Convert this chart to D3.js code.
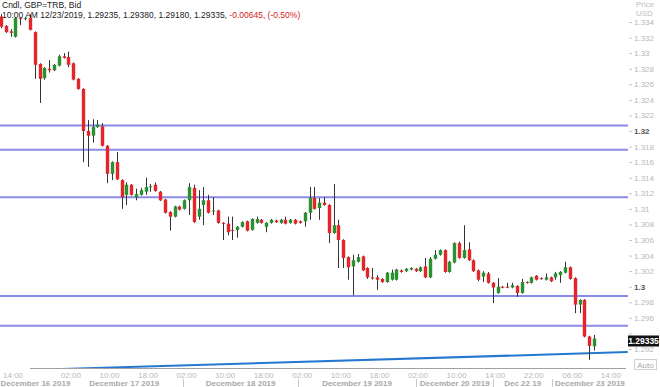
<!DOCTYPE html>
<html><head><meta charset="utf-8">
<script src="https://cdn.jsdelivr.net/npm/d3@7"></script>
<style>body{margin:0;background:#fff}svg{display:block}</style>
</head><body><svg id="c" width="660" height="387"></svg>
<script>
// ---- data (GBP/USD hourly candles, Dec 16 - Dec 23 2019) ----
const opens = [1.3347,1.3335,1.3328,1.3321,1.3345,1.3344,1.3345,1.3327,1.3286,1.3268,1.3280,1.3278,1.3284,1.3296,1.3295,1.3287,1.3267,1.3254,1.3200,1.3194,1.3205,1.3206,1.3181,1.3145,1.3160,1.3137,1.3118,1.3131,1.3115,1.3118,1.3122,1.3128,1.3131,1.3122,1.3112,1.3096,1.3090,1.3103,1.3100,1.3111,1.3127,1.3090,1.3105,1.3111,1.3097,1.3098,1.3082,1.3081,1.3073,1.3073,1.3077,1.3084,1.3073,1.3082,1.3086,1.3077,1.3082,1.3085,1.3082,1.3086,1.3082,1.3086,1.3084,1.3084,1.3095,1.3114,1.3101,1.3108,1.3105,1.3069,1.3079,1.3060,1.3038,1.3026,1.3032,1.3039,1.3024,1.3012,1.3012,1.3010,1.3006,1.3009,1.3009,1.3021,1.3020,1.3022,1.3023,1.3020,1.3026,1.3012,1.3036,1.3041,1.3047,1.3019,1.3031,1.3056,1.3037,1.3048,1.3034,1.3021,1.3013,1.3017,1.3005,1.2992,1.3000,1.3000,1.2999,1.3001,1.2992,1.3006,1.3005,1.3014,1.3011,1.3009,1.3012,1.3012,1.3015,1.3018,1.3025,1.3011,1.2977,1.2983,1.2936,1.29235];
const highs = [1.3350,1.3336,1.3331,1.3346,1.3346,1.3346,1.3350,1.3328,1.3287,1.3282,1.3291,1.3286,1.3298,1.3300,1.3302,1.3288,1.3268,1.3255,1.3214,1.3215,1.3214,1.3210,1.3182,1.3161,1.3173,1.3138,1.3134,1.3132,1.3126,1.3127,1.3140,1.3132,1.3134,1.3123,1.3113,1.3097,1.3104,1.3104,1.3112,1.3133,1.3131,1.3124,1.3128,1.3118,1.3115,1.3099,1.3083,1.3090,1.3090,1.3078,1.3084,1.3085,1.3088,1.3090,1.3087,1.3083,1.3087,1.3086,1.3087,1.3090,1.3087,1.3087,1.3085,1.3096,1.3128,1.3128,1.3114,1.3115,1.3106,1.3132,1.3086,1.3061,1.3039,1.3041,1.3042,1.3040,1.3025,1.3024,1.3015,1.3011,1.3019,1.3022,1.3023,1.3022,1.3024,1.3025,1.3024,1.3026,1.3037,1.3038,1.3047,1.3048,1.3048,1.3033,1.3057,1.3058,1.3079,1.3057,1.3035,1.3022,1.3020,1.3019,1.3006,1.3011,1.3001,1.3005,1.3005,1.3002,1.3010,1.3007,1.3013,1.3015,1.3012,1.3017,1.3013,1.3019,1.3020,1.3032,1.3026,1.3012,1.2984,1.2984,1.2937,1.2938];
const lows = [1.3332,1.3326,1.3321,1.3320,1.3336,1.3342,1.3329,1.3267,1.3236,1.3266,1.3275,1.3277,1.3283,1.3293,1.3282,1.3265,1.3253,1.3160,1.3154,1.3185,1.3204,1.3180,1.3133,1.3137,1.3137,1.3100,1.3105,1.3117,1.3111,1.3117,1.3118,1.3122,1.3122,1.3110,1.3094,1.3072,1.3089,1.3098,1.3099,1.3092,1.3082,1.3086,1.3079,1.3094,1.3092,1.3081,1.3060,1.3066,1.3060,1.3063,1.3076,1.3071,1.3072,1.3081,1.3081,1.3070,1.3081,1.3082,1.3081,1.3080,1.3081,1.3080,1.3081,1.3077,1.3086,1.3099,1.3086,1.3104,1.3056,1.3068,1.3024,1.3024,1.3009,1.2989,1.3031,1.3020,1.3010,1.3009,1.2996,1.3005,1.3005,1.3008,1.3008,1.3018,1.3019,1.3021,1.3019,1.3019,1.3011,1.3011,1.3035,1.3040,1.3018,1.3018,1.3030,1.3036,1.3036,1.3033,1.3019,1.3007,1.3006,1.3004,1.2979,1.2991,1.2998,1.2998,1.2998,1.2987,1.2991,1.3004,1.3004,1.3008,1.3009,1.3008,1.3006,1.3009,1.3005,1.3017,1.3009,1.2966,1.2966,1.2935,1.2906,1.2918];
const closes = [1.3334,1.3327,1.3326,1.3345,1.3344,1.3345,1.3330,1.3285,1.3267,1.3281,1.3278,1.3285,1.3296,1.3294,1.3285,1.3266,1.3254,1.3200,1.3194,1.3205,1.3208,1.3181,1.3145,1.3160,1.3138,1.3115,1.3131,1.3118,1.3119,1.3124,1.3128,1.3129,1.3123,1.3111,1.3095,1.3090,1.3103,1.3099,1.3111,1.3128,1.3083,1.3100,1.3111,1.3095,1.3098,1.3082,1.3081,1.3070,1.3072,1.3077,1.3083,1.3072,1.3087,1.3087,1.3082,1.3082,1.3086,1.3083,1.3086,1.3081,1.3086,1.3081,1.3082,1.3095,1.3114,1.3100,1.3108,1.3105,1.3069,1.3079,1.3060,1.3037,1.3025,1.3034,1.3038,1.3021,1.3012,1.3011,1.3009,1.3006,1.3018,1.3018,1.3022,1.3019,1.3023,1.3024,1.3020,1.3025,1.3012,1.3036,1.3041,1.3047,1.3019,1.3032,1.3056,1.3037,1.3047,1.3034,1.3020,1.3009,1.3018,1.3005,1.2999,1.3000,1.2999,1.2999,1.3002,1.2992,1.3006,1.3005,1.3012,1.3009,1.3010,1.3012,1.3007,1.3017,1.3019,1.3025,1.3010,1.2977,1.2983,1.2936,1.2924,1.29335];

const levels = [1.3207, 1.3176, 1.3115, 1.2988, 1.2950];
const trendIdx = [0, 130];
const trendVal = [1.2892, 1.2916];

const yTicks = [1.292,1.294,1.296,1.298,1.300,1.302,1.304,1.306,1.308,1.310,1.312,1.314,1.316,1.318,1.320,1.322,1.324,1.326,1.328,1.330,1.332,1.334];
const yBold = [1.300, 1.320];
const yHidden = [1.294]; // covered by the last-price label

const timeIdx = [2.5,14.5,22.5,30.5,38.5,46.5,54.5,62.5,70.5,78.5,86.5,94.5,102.5,110.5,118.5,126.5];
const timeText = ["14:00","02:00","10:00","18:00","02:00","10:00","18:00","02:00","10:00","18:00","02:00","10:00","14:00","22:00","06:00","14:00"];
const sepIdx = [-1, 13.3, 37.8, 61.6, 86.1, 102.1, 114.3, 130];
const dateText = ["December 16 2019","December 17 2019","December 18 2019","December 19 2019","December 20 2019","Dec 22 19","December 23 2019"];

const lastPrice = 1.29335;
const header1 = "Cndl, GBP=TRB, Bid";
const header2 = "10:00 AM 12/23/2019, 1.29235, 1.29380, 1.29180, 1.29335, ";
const header3 = "-0.00645, (-0.50%)";

// ---- drawing ----
const plotR = 628, plotB = 368;
const svg = d3.select("#c");
const font = "Liberation Sans, Arial, sans-serif";

const x = d3.scaleLinear().domain([0, opens.length - 1]).range([1, 594]);
const y = d3.scaleLinear().domain([1.292, 1.334]).range([349, 22]);

svg.append("defs").append("clipPath").attr("id","plot")
  .append("rect").attr("x",0).attr("y",0).attr("width",plotR).attr("height",plotB);

const g = svg.append("g").attr("clip-path","url(#plot)");

// levels
g.selectAll("line.lvl").data(levels).join("line").attr("class","lvl")
  .attr("x1",0).attr("x2",plotR).attr("y1",d=>y(d)).attr("y2",d=>y(d))
  .attr("stroke","#8a8ae8").attr("stroke-width",2);

// trend line
g.append("line")
  .attr("x1",x(trendIdx[0])).attr("y1",y(trendVal[0]))
  .attr("x2",x(trendIdx[1])).attr("y2",y(trendVal[1]))
  .attr("stroke","#2478cf").attr("stroke-width",2);

// candles
const idx = d3.range(opens.length);
const bw = 3.4;
g.selectAll("line.wick").data(idx).join("line").attr("class","wick")
  .attr("x1",i=>Math.round(x(i))+0.5).attr("x2",i=>Math.round(x(i))+0.5)
  .attr("y1",i=>y(highs[i])).attr("y2",i=>y(lows[i]))
  .attr("stroke","#333").attr("stroke-width",1);
g.selectAll("rect.body").data(idx).join("rect").attr("class","body")
  .attr("x",i=>Math.round(x(i))+0.5-bw/2).attr("width",bw)
  .attr("y",i=>y(Math.max(opens[i],closes[i])))
  .attr("height",i=>Math.max(1, Math.abs(y(opens[i])-y(closes[i]))))
  .attr("fill",i=>closes[i]>=opens[i] ? "#2a912f" : "#e4262b");

// y axis
const isIn = (arr, d) => arr.some(b => Math.abs(b - d) < 1e-9);
const ax = svg.append("g").attr("transform",`translate(${plotR+1},0)`)
  .call(d3.axisRight(y).tickValues(yTicks).tickSize(3).tickPadding(2)
    .tickFormat(d => isIn(yHidden, d) ? "" : String(+d.toFixed(3))));
ax.select(".domain").remove();
ax.selectAll(".tick line").attr("stroke","#c4c4c4");
ax.selectAll(".tick text").attr("font-family",font).attr("font-size","8px")
  .attr("fill",d => isIn(yBold, d) ? "#555" : "#b8b8b8")
  .attr("font-weight",d => isIn(yBold, d) ? "bold" : "normal");

svg.append("text").attr("x",636).attr("y",7).text("Price")
  .attr("font-family",font).attr("font-size","8px").attr("fill","#c0c0c0");
svg.append("text").attr("x",636).attr("y",16).text("USD")
  .attr("font-family",font).attr("font-size","8px").attr("fill","#c0c0c0");

// last price label
const ly = y(lastPrice);
svg.append("rect").attr("x",628).attr("y",ly-3).attr("width",31).attr("height",11).attr("fill","#111");
svg.append("text").attr("x",643.5).attr("y",ly+6).attr("text-anchor","middle").text(d3.format(".5f")(lastPrice))
  .attr("font-family",font).attr("font-size","8.5px").attr("font-weight","bold").attr("fill","#fff");

// Auto box
svg.append("rect").attr("x",634.5).attr("y",359.5).attr("width",22).attr("height",10)
  .attr("fill","#fff").attr("stroke","#d0d0d0");
svg.append("text").attr("x",645.5).attr("y",367.5).attr("text-anchor","middle").text("Auto")
  .attr("font-family",font).attr("font-size","8px").attr("fill","#a8a8a8");

// x axis
svg.append("line").attr("x1",30).attr("x2",626).attr("y1",plotB+0.5).attr("y2",plotB+0.5).attr("stroke","#a0a0a0");
svg.selectAll("text.tl").data(timeIdx).join("text").attr("class","tl")
  .attr("x",d=>x(d)).attr("y",378).attr("text-anchor","middle").text((d,i)=>timeText[i])
  .attr("font-family",font).attr("font-size","8px").attr("fill","#b8b8b8");
const dl = svg.selectAll("text.dl").data(dateText).join("text").attr("class","dl")
  .attr("x",(d,i)=>(x(sepIdx[i])+x(sepIdx[i+1]))/2).attr("y",386).attr("text-anchor","middle").text(d=>d)
  .attr("font-family",font).attr("font-size","8px").attr("font-weight","bold").attr("fill","#a8a8a8");
// keep the first date label inside the picture
dl.each(function(){
  const w = this.getComputedTextLength();
  const cx = +this.getAttribute("x");
  if (cx - w/2 < 0) this.setAttribute("x", w/2 + 0.5);
});
svg.selectAll("line.sep").data(sepIdx.slice(2, 7)).join("line").attr("class","sep")
  .attr("x1",d=>Math.round(x(d))+0.5).attr("x2",d=>Math.round(x(d))+0.5)
  .attr("y1",379).attr("y2",387).attr("stroke","#c8c8c8");

// header
svg.append("text").attr("x",2).attr("y",8).text(header1)
  .attr("font-family",font).attr("font-size","8.5px").attr("fill","#222");
const h2 = svg.append("text").attr("x",2).attr("y",18)
  .attr("font-family",font).attr("font-size","8.5px").attr("fill","#222");
h2.append("tspan").text(header2);
h2.append("tspan").attr("fill","#d42020").text(header3);
</script>
</body></html>
